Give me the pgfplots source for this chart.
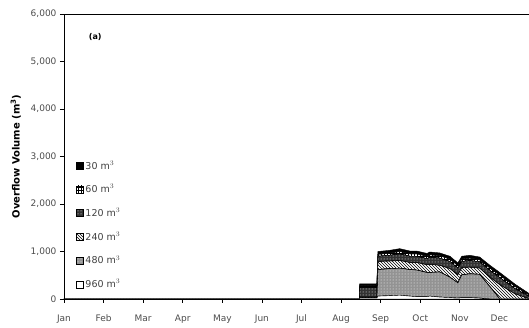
\documentclass[border=0pt]{standalone}
\usepackage{fontspec}
\setmainfont{DejaVu Sans}
\usepackage{pgfplots}
\pgfplotsset{compat=1.18}
\usepackage{pgfplotstable}
\usetikzlibrary{patterns}
\pgfplotstableread{
m      v960 v480 v240 v120 v60 v30
0      0    0    0    0    0   0
7.46   0    0    0    0    0   0
7.47   20   0    20   200  40  40
7.904  20   0    20   200  40  40
7.93   60   560  170  110  40  60
8.23   70   570  160  120  45  60
8.48   80   570  160  140  50  60
8.74   60   560  150  130  50  60
8.91   50   560  160  130  50  60
9.17   50   510  160  130  50  60
9.24   60   500  170  150  50  60
9.49   40   530  140  150  50  60
9.75   30   430  180  150  50  60
9.95   20   320  170  140  50  60
10.05  30   480  150  130  50  60
10.25  30   500  140  140  50  60
10.5   20   500  130  134  40  60
10.76  0    260  200  140  50  60
11.01  0    0    300  150  50  58
11.39  0    0    110  110  46  50
11.74  0    0    10   50   30  30
12.0   0    0    0    20   15  15
}\data
\begin{document}
\begin{tikzpicture}
\begin{axis}[
  at={(0,0)}, anchor=south west,
  scale only axis,
  width=475pt, height=285pt,
  xmin=0, xmax=12, ymin=0, ymax=6000,
  stack plots=y,
  area style,
  axis on top,
  xtick={0,...,11},
  xticklabels={Jan,Feb,Mar,Apr,May,Jun,Jul,Aug,Sep,Oct,Nov,Dec},
  ytick={0,1000,...,6000},
  /pgf/number format/assume math mode=true,
  /pgf/number format/1000 sep={,},
  scaled y ticks=false,
  tick align=outside,
  xtick pos=bottom, ytick pos=left,
  major tick length=4pt,
  tick style={black, line width=0.8pt},
  axis line style={line width=0.9pt},
  ticklabel style={font=\fontsize{9}{11}\selectfont, text=black!70},
  xticklabel style={yshift=-8pt},
  ylabel={\textbf{Overflow Volume (m$^{\mathbf{3}}$)}},
  ylabel style={font=\fontsize{10}{12}\selectfont, yshift=3pt},
  legend style={draw=none, fill=none, at={(0.025,0.493)}, anchor=north west,
    font=\fontsize{9.5}{11}\selectfont, row sep=9.9pt, text=black!75,
    inner sep=0pt},
  legend cell align=left,
  reverse legend,
  legend image code/.code={\draw[#1] (0pt,-3.5pt) rectangle (7pt,3.5pt);},
]
\addplot[draw=black, line width=0.4pt, fill=white] table[x=m, y=v960] {\data} \closedcycle;
\addplot[draw=black, line width=0.4pt, fill=gray!85, postaction={pattern=dots, pattern color=white}] table[x=m, y=v480] {\data} \closedcycle;
\addplot[draw=black, line width=0.4pt, fill=white, postaction={pattern=north west lines}] table[x=m, y=v240] {\data} \closedcycle;
\addplot[draw=black, line width=0.4pt, fill=black!80, postaction={pattern=dots, pattern color=white}] table[x=m, y=v120] {\data} \closedcycle;
\addplot[draw=black, line width=0.4pt, fill=white, postaction={pattern=grid}] table[x=m, y=v60] {\data} \closedcycle;
\addplot[draw=black, line width=0.4pt, fill=black] table[x=m, y=v30] {\data} \closedcycle;
\legend{960 m$^3$,480 m$^3$,240 m$^3$,120 m$^3$,60 m$^3$,30 m$^3$}
\node[font=\bfseries\fontsize{8}{9}\selectfont, anchor=west] at (rel axis cs:0.045,0.92) {(a)};
\end{axis}
\pgfresetboundingbox
\useasboundingbox (-64pt,-29pt) rectangle (465pt,299pt);
\end{tikzpicture}
\end{document}
